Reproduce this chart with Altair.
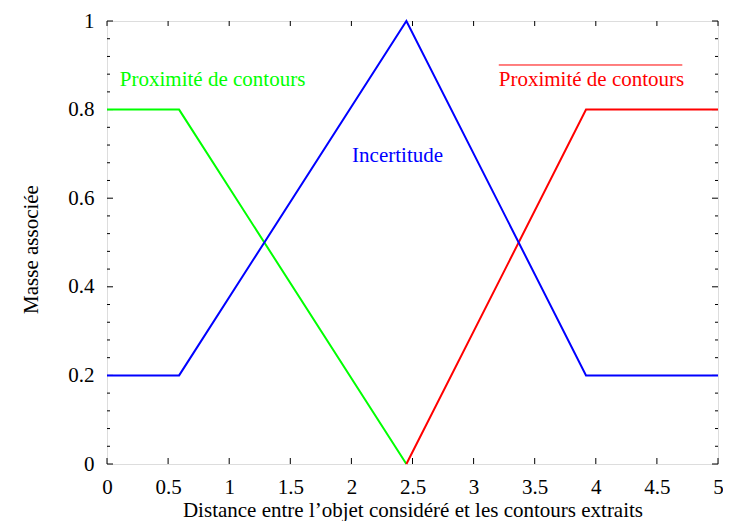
import altair as alt
import pandas as pd

# Series data
green_x = [0, 0.59, 2.45]
green_y = [0.8, 0.8, 0.0]
red_x = [2.45, 3.92, 5]
red_y = [0.0, 0.8, 0.8]
blue_x = [0, 0.59, 2.45, 3.92, 5]
blue_y = [0.2, 0.2, 1.0, 0.2, 0.2]

x_ticks = [0, 0.5, 1, 1.5, 2, 2.5, 3, 3.5, 4, 4.5, 5]
y_ticks = [0, 0.2, 0.4, 0.6, 0.8, 1.0]
y_minor = [round(i * 0.04, 2) for i in range(26)]

labels_text = ["Proximité de contours", "Proximité de contours", "Incertitude"]
labels_x = [0.105, 3.206, 2.378]
labels_y = [0.853, 0.853, 0.682]
labels_col = ["#00ff00", "#ff0000", "#0000ff"]
labels_align = ["left", "left", "center"]

FONT = "'Liberation Serif', 'Times New Roman', Times, serif"
W, H = 611, 443

rows = []
for name, xs_, ys_ in [("g", green_x, green_y), ("r", red_x, red_y), ("b", blue_x, blue_y)]:
    for i, (a, b) in enumerate(zip(xs_, ys_)):
        rows.append({"s": name, "x": a, "y": b, "o": i})
df = pd.DataFrame(rows)

xs = alt.Scale(domain=[0, 5], nice=False, zero=False)
ys = alt.Scale(domain=[0, 1], nice=False, zero=False)

xaxis = alt.Axis(values=x_ticks, format="~g", grid=False, ticks=False, tickSize=0, domain=False,
                 labelFont=FONT, labelFontSize=21, labelColor="black", labelPadding=12,
                 title="Distance entre l’objet considéré et les contours extraits",
                 titleFont=FONT, titleFontSize=21, titleFontWeight="normal", titleColor="black",
                 titleBaseline="alphabetic", titleY=52, labelFlush=False)
yaxis = alt.Axis(values=y_ticks, format="~g", grid=False, ticks=False, tickSize=0, domain=False,
                 labelFont=FONT, labelFontSize=21, labelColor="black", labelPadding=13,
                 title="Masse associée", titleFont=FONT, titleFontSize=21, titleFontWeight="normal",
                 titleColor="black", titleBaseline="alphabetic", titleX=-70, titleY=228, titleAngle=-90,
                 labelFlush=False)

lines = alt.Chart(df).mark_line(strokeWidth=2).encode(
    x=alt.X("x:Q", scale=xs, axis=xaxis),
    y=alt.Y("y:Q", scale=ys, axis=yaxis),
    color=alt.Color("s:N", scale=alt.Scale(domain=["g", "r", "b"], range=["#00ff00", "#ff0000", "#0000ff"]), legend=None),
    order="o:Q",
    detail="s:N",
)

ymin_df = pd.DataFrame({"y": y_minor, "major": [abs(v * 5 - round(v * 5)) < 1e-6 for v in y_minor]})
yt_left_major = alt.Chart(ymin_df[ymin_df["major"]]).mark_rule(color="black", strokeWidth=1).encode(
    y=alt.Y("y:Q", scale=ys), x=alt.value(0), x2=alt.value(6)
)
yt_left_minor = alt.Chart(ymin_df[~ymin_df["major"]]).mark_rule(color="black", strokeWidth=1).encode(
    y=alt.Y("y:Q", scale=ys), x=alt.value(0), x2=alt.value(3)
)
yt_right_major = alt.Chart(ymin_df[ymin_df["major"]]).mark_rule(color="black", strokeWidth=1).encode(
    y=alt.Y("y:Q", scale=ys), x=alt.value(W), x2=alt.value(W - 6)
)
yt_right_minor = alt.Chart(ymin_df[~ymin_df["major"]]).mark_rule(color="black", strokeWidth=1).encode(
    y=alt.Y("y:Q", scale=ys), x=alt.value(W), x2=alt.value(W - 3)
)
xt_df = pd.DataFrame({"x": x_ticks})
xt_bottom = alt.Chart(xt_df).mark_rule(color="black", strokeWidth=1).encode(
    x=alt.X("x:Q", scale=xs), y=alt.value(H), y2=alt.value(H - 6)
)
xt_top = alt.Chart(xt_df).mark_rule(color="black", strokeWidth=1).encode(
    x=alt.X("x:Q", scale=xs), y=alt.value(0), y2=alt.value(5)
)

lab_df = pd.DataFrame({"t": labels_text, "x": labels_x, "y": labels_y, "c": labels_col, "a": labels_align})
left_labels = alt.Chart(lab_df[lab_df["a"] == "left"]).mark_text(
    font=FONT, fontSize=21, align="left", baseline="alphabetic"
).encode(x=alt.X("x:Q", scale=xs), y=alt.Y("y:Q", scale=ys), text="t:N", color=alt.Color("c:N", scale=None))
center_labels = alt.Chart(lab_df[lab_df["a"] == "center"]).mark_text(
    font=FONT, fontSize=21, align="center", baseline="alphabetic"
).encode(x=alt.X("x:Q", scale=xs), y=alt.Y("y:Q", scale=ys), text="t:N", color=alt.Color("c:N", scale=None))

overline_df = pd.DataFrame({"x": [3.206], "x2": [4.708], "y": [0.9007]})
overline = alt.Chart(overline_df).mark_rule(color="#ff0000", strokeWidth=1).encode(
    x=alt.X("x:Q", scale=xs), x2="x2:Q", y=alt.Y("y:Q", scale=ys)
)

chart = alt.layer(
    yt_left_major, yt_left_minor, yt_right_major, yt_right_minor, xt_bottom, xt_top,
    lines, left_labels, center_labels, overline
).properties(
    width=W, height=H,
    autosize=alt.AutoSizeParams(type="none"),
    padding={"left": 99, "top": 13, "right": 5, "bottom": 57},
).configure_view(stroke="black", strokeWidth=1.5).configure(background="white")

chart.save("out.html", embed_options={"renderer": "svg", "actions": False})
